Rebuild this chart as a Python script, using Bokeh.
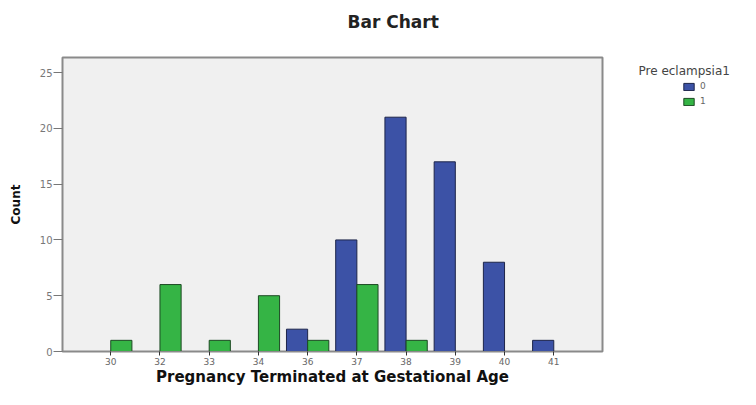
from bokeh.plotting import figure
from bokeh.layouts import row
from bokeh.models import (Range1d, FixedTicker, Legend, LegendItem, Label, Title,
                          ColumnDataSource)
from bokeh.embed import file_html
from bokeh.resources import INLINE

# ---- data ----
ages = ["30", "32", "33", "34", "36", "37", "38", "39", "40", "41"]
count_no = [0, 0, 0, 0, 2, 10, 21, 17, 8, 1]      # Pre eclampsia = 0
count_yes = [1, 6, 1, 5, 1, 6, 1, 0, 0, 0]        # Pre eclampsia = 1
y_ticks = [0, 5, 10, 15, 20, 25]
chart_title = "Bar Chart"
legend_title = "Pre eclampsia1"
series_labels = ["0", "1"]

BLUE = "#3c52a6"
GREEN = "#35b445"
FONT = "DejaVu Sans"
H = 389
TOP = 57
BOTTOM = 38
FRAME_H = H - TOP - BOTTOM

idx = list(range(len(ages)))
bar_w = 0.43
src0 = ColumnDataSource(dict(x=[i - bar_w / 2 for i in idx], top=count_no))
src1 = ColumnDataSource(dict(x=[i + bar_w / 2 for i in idx], top=count_yes))

p = figure(width=604, height=H, output_backend="svg", toolbar_location=None,
           x_range=Range1d(-0.98, 9.99), y_range=Range1d(0, 26.35),
           min_border_left=62, min_border_right=2, min_border_top=TOP, min_border_bottom=BOTTOM)

p.border_fill_color = "white"
p.background_fill_color = "#f0f0f0"
p.outline_line_color = "#8a8a8a"
p.outline_line_width = 2
p.grid.visible = False

p.vbar(x="x", top="top", width=bar_w, bottom=0, source=src0,
       fill_color=BLUE, line_color="#1d254a", line_width=1)
p.vbar(x="x", top="top", width=bar_w, bottom=0, source=src1,
       fill_color=GREEN, line_color="#1d4a24", line_width=1)

# title: a small spacer panel next to the frame, then the title above it
p.add_layout(Title(text=" ", text_font_size="2px", standoff=20), "above")
p.add_layout(Title(text=chart_title, align="left", offset=285, vertical_align="top",
                   standoff=0, text_font=FONT, text_font_style="bold",
                   text_font_size="17px", text_color="#222222"), "above")

# x axis
xa = p.xaxis[0]
xa.ticker = FixedTicker(ticks=idx)
xa.major_label_overrides = {i: a for i, a in zip(idx, ages)}
xa.axis_label = "Pregnancy Terminated at Gestational Age"
xa.axis_label_text_font = FONT
xa.axis_label_text_font_style = "bold"
xa.axis_label_text_font_size = "15px"
xa.axis_label_text_color = "#111111"
xa.axis_label_standoff = 0
xa.major_label_text_font = FONT
xa.major_label_text_font_size = "9px"
xa.major_label_text_color = "#666666"
xa.major_label_standoff = 2
xa.major_tick_out = 4
xa.major_tick_in = 0
xa.major_tick_line_color = "#333333"
xa.minor_tick_line_color = None
xa.axis_line_color = "#8a8a8a"

# y axis
ya = p.yaxis[0]
ya.ticker = FixedTicker(ticks=y_ticks)
ya.axis_label = "Count"
ya.axis_label_text_font = FONT
ya.axis_label_text_font_style = "bold"
ya.axis_label_text_font_size = "12px"
ya.axis_label_text_color = "#111111"
ya.axis_label_standoff = 14
ya.major_label_text_font = FONT
ya.major_label_text_font_size = "10px"
ya.major_label_text_color = "#777777"
ya.major_label_standoff = 1
ya.major_tick_out = 9
ya.major_tick_in = 0
ya.major_tick_line_color = "#777777"
ya.minor_tick_line_color = None
ya.axis_line_color = "#8a8a8a"

# ---- legend panel (separate figure to the right; its frame aligns with the chart frame) ----
lg = figure(width=136, height=H, output_backend="svg", toolbar_location=None,
            x_range=Range1d(0, 1), y_range=Range1d(0, 1),
            x_axis_type=None, y_axis_type=None,
            min_border_left=0, min_border_right=0, min_border_top=TOP, min_border_bottom=BOTTOM,
            outline_line_color=None)
lg.grid.visible = False
lg.background_fill_color = "white"
lg.border_fill_color = "white"
# hidden copies of the two series, only used to draw the legend swatches
l0 = lg.vbar(x="x", top="top", width=bar_w, source=src0, fill_color=BLUE,
             line_color="#1d254a", visible=False)
l1 = lg.vbar(x="x", top="top", width=bar_w, source=src1, fill_color=GREEN,
             line_color="#1d4a24", visible=False)

lg.add_layout(Label(x=34, y=FRAME_H - 13, x_units="screen", y_units="screen", text=legend_title,
                    text_font=FONT, text_font_size="12px", text_color="#444444",
                    text_baseline="middle"))

legend = Legend(items=[LegendItem(label=series_labels[0], renderers=[l0]),
                       LegendItem(label=series_labels[1], renderers=[l1])],
                location=(78, FRAME_H - 26 - 23), orientation="vertical",
                glyph_width=13, glyph_height=9, label_text_font=FONT,
                label_text_font_size="9px", label_text_color="#666666",
                label_standoff=5, spacing=5, padding=0, margin=0,
                label_height=9, border_line_color=None, background_fill_alpha=0)
lg.add_layout(legend, "center")

layout = row(p, lg, spacing=0)
open("out.html", "w").write(file_html(layout, INLINE))
